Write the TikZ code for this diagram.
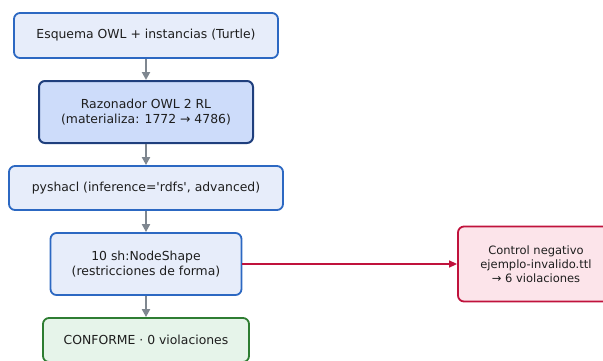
\documentclass[tikz,border=0pt]{standalone}
\usepackage{fontspec}
\setmainfont{DejaVu Sans}
\usetikzlibrary{arrows.meta}
\definecolor{bfill}{HTML}{E7EDFA}
\definecolor{bdraw}{HTML}{2C68C2}
\definecolor{dfill}{HTML}{CDDCFA}
\definecolor{ddraw}{HTML}{1F3F7D}
\definecolor{gfill}{HTML}{E6F4EA}
\definecolor{gdraw}{HTML}{2E7D32}
\definecolor{rfill}{HTML}{FCE4EA}
\definecolor{rdraw}{HTML}{C0123C}
\definecolor{agray}{HTML}{7F8790}
\definecolor{tcol}{HTML}{1E1E1E}
\begin{document}
\begin{tikzpicture}[x=1pt,y=-1pt,
  box/.style={draw=bdraw,fill=bfill,line width=1.8pt,rounded corners=6pt,inner sep=0pt,align=center,font=\fontsize{12.4}{14.8}\selectfont,text=tcol},
  dbox/.style={box,draw=ddraw,fill=dfill,line width=2pt},
  gbox/.style={box,draw=gdraw,fill=gfill},
  rbox/.style={box,draw=rdraw,fill=rfill,font=\fontsize{11.5}{13.8}\selectfont},
  arr/.style={draw=agray,line width=2pt,-{Triangle[length=8pt,width=8pt]}},
  rarr/.style={draw=rdraw,line width=1.5pt,-{Triangle[length=8pt,width=7pt]}}]
\useasboundingbox (0,0) rectangle (603,360);
\node[box,minimum width=264pt,minimum height=45pt] (b1) at (146,35.5) {Esquema OWL + instancias (Turtle)};
\node[dbox,minimum width=214pt,minimum height=62pt] (b2) at (146,112) {Razonador OWL 2 RL\\(materializa: 1772 → 4786)};
\node[box,minimum width=274pt,minimum height=44pt] (b3) at (146,188) {pyshacl (inference=\textquotesingle rdfs\textquotesingle, advanced)};
\node[box,minimum width=191pt,minimum height=62pt] (b4) at (146,264) {10 sh:NodeShape\\(restricciones de forma)};
\node[gbox,minimum width=206pt,minimum height=44pt] (b5) at (146,340) {CONFORME · 0 violaciones};
\node[rbox,minimum width=156pt,minimum height=75pt] (b6) at (536,264) {Control negativo\\ejemplo-invalido.ttl\\→ 6 violaciones};
\draw[arr] (b1) -- (b2);
\draw[arr] (b2) -- (b3);
\draw[arr] (b3) -- (b4);
\draw[arr] (b4) -- (b5);
\draw[rarr] (b4.east) -- (b6.west);
\end{tikzpicture}
\end{document}
